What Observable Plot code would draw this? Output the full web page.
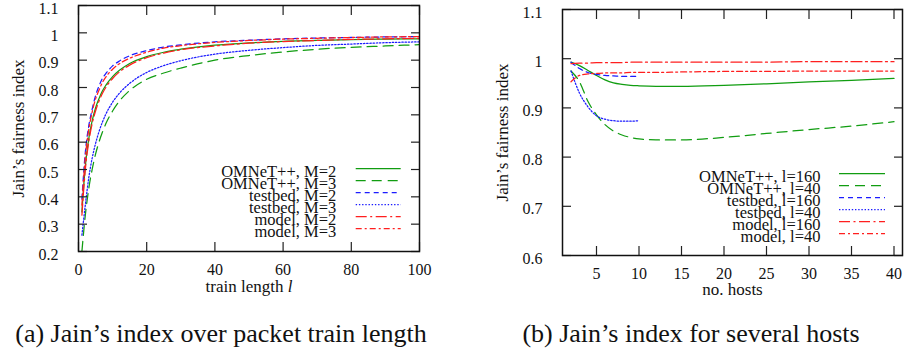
<!DOCTYPE html>
<html><head><meta charset="utf-8">
<script src="https://cdn.jsdelivr.net/npm/d3@7"></script>
<script src="https://cdn.jsdelivr.net/npm/@observablehq/plot@0.6"></script>
<style>
html,body{margin:0;padding:0;background:#fff;}
#root{position:relative;width:905px;height:353px;overflow:hidden;font-family:"Liberation Serif","Times New Roman","DejaVu Serif",serif;}
#root svg{position:absolute;top:0;}
#root svg text{font-family:"Liberation Serif","Times New Roman","DejaVu Serif",serif;}
.cap{position:absolute;top:321px;font-size:26px;line-height:1;white-space:nowrap;transform:translateX(-50%);color:#111;}
</style></head><body><div id="root"></div>
<script>
// ---------- data: panel (a) ----------
const trainLen   = [1,2,3,4,5,6,7,8,10,12,15,20,25,30,40,50,60,70,80,90,100];
const omnetM2    = [0.345,0.513,0.612,0.678,0.725,0.759,0.787,0.808,0.840,0.863,0.888,0.913,0.929,0.940,0.955,0.963,0.969,0.972,0.975,0.977,0.978];
const omnetM3    = [0.200,0.333,0.429,0.500,0.556,0.600,0.636,0.667,0.714,0.750,0.789,0.830,0.853,0.871,0.900,0.917,0.930,0.940,0.947,0.952,0.957];
const testbedM2  = [0.392,0.563,0.659,0.720,0.770,0.805,0.833,0.851,0.879,0.897,0.916,0.935,0.948,0.956,0.967,0.973,0.978,0.981,0.983,0.985,0.986];
const testbedM3  = [0.260,0.370,0.469,0.541,0.595,0.638,0.673,0.702,0.746,0.779,0.815,0.855,0.880,0.898,0.922,0.936,0.946,0.954,0.959,0.964,0.967];
const modelM2    = [0.333,0.500,0.600,0.667,0.714,0.750,0.778,0.800,0.833,0.857,0.882,0.909,0.926,0.938,0.952,0.962,0.968,0.972,0.976,0.978,0.980];
const modelM3    = [0.370,0.545,0.645,0.710,0.758,0.790,0.818,0.838,0.867,0.887,0.907,0.929,0.944,0.953,0.965,0.972,0.977,0.980,0.983,0.985,0.986];
const labelsA    = ["OMNeT++, M=2","OMNeT++, M=3","testbed, M=2","testbed, M=3","model, M=2","model, M=3"];
const xTicksA    = [0,20,40,60,80,100];
const yTicksA    = [0.2,0.3,0.4,0.5,0.6,0.7,0.8,0.9,1,1.1];

// ---------- data: panel (b) ----------
const hosts        = [2,3,4,5,6,7,8,9,10,12,15,20,25,30,35,40];
const testbedHosts = [2,3,4,5,6,7,8,9,10];
const omnet160   = [0.993,0.986,0.976,0.966,0.957,0.951,0.948,0.946,0.945,0.944,0.944,0.946,0.949,0.953,0.956,0.960];
const omnet40    = [0.975,0.953,0.913,0.886,0.866,0.853,0.845,0.840,0.837,0.835,0.835,0.840,0.848,0.856,0.863,0.872];
const testbed160 = [0.993,0.980,0.972,0.968,0.966,0.965,0.964,0.964,0.9645];
const testbed40  = [0.975,0.930,0.902,0.884,0.877,0.874,0.873,0.873,0.874];
const model160   = [0.990,0.991,0.991,0.992,0.992,0.992,0.992,0.993,0.993,0.993,0.993,0.993,0.993,0.994,0.994,0.994];
const model40    = [0.953,0.966,0.969,0.970,0.971,0.971,0.971,0.972,0.972,0.972,0.973,0.974,0.974,0.975,0.975,0.975];
const labelsB    = ["OMNeT++, l=160","OMNeT++, l=40","testbed, l=160","testbed, l=40","model, l=160","model, l=40"];
const xTicksB    = [5,10,15,20,25,30,35,40];
const yTicksB    = [0.6,0.7,0.8,0.9,1,1.1];

// ---------- styles (kept apart from data) ----------
const GREEN = "#119d11", BLUE = "#1c1cff", RED = "#ff1f1f";
const lineStyles = [
  {stroke: GREEN, dash: null},
  {stroke: GREEN, dash: "10,6"},
  {stroke: BLUE,  dash: "5,4"},
  {stroke: BLUE,  dash: "1.4,1.8"},
  {stroke: RED,   dash: "11,3.5,2,3.5"},
  {stroke: RED,   dash: "6,3,2,3"}
];

const seriesA = [
  {label: labelsA[0], x: trainLen, y: omnetM2},
  {label: labelsA[1], x: trainLen, y: omnetM3},
  {label: labelsA[2], x: trainLen, y: testbedM2},
  {label: labelsA[3], x: trainLen, y: testbedM3},
  {label: labelsA[4], x: trainLen, y: modelM2},
  {label: labelsA[5], x: trainLen, y: modelM3}
];
const seriesB = [
  {label: labelsB[0], x: hosts, y: omnet160},
  {label: labelsB[1], x: hosts, y: omnet40},
  {label: labelsB[2], x: testbedHosts, y: testbed160},
  {label: labelsB[3], x: testbedHosts, y: testbed40},
  {label: labelsB[4], x: hosts, y: model160},
  {label: labelsB[5], x: hosts, y: model40}
];

const fmt = d3.format("~g");
const FONT = "'Liberation Serif', 'Times New Roman', 'DejaVu Serif', serif";
const svgStyle = {fontFamily: FONT, fontSize: "16px", color: "#111", background: "transparent", overflow: "visible"};

function lineMarks(series) {
  return series.map((s, i) => {
    const rows = s.x.map((x, j) => ({x, y: s.y[j]}));
    return Plot.line(rows, {x: "x", y: "y", stroke: lineStyles[i].stroke,
      strokeDasharray: lineStyles[i].dash, strokeWidth: 1.25, curve: "monotone-x", clip: true});
  });
}

function panel({series, xDomain, yDomain, xTicks, yTicks, xTitle, yTitle, m, xTitleDy}) {
  const tk = {stroke: "#222", strokeWidth: 1.2, label: null, fill: "none"};
  return Plot.plot({
    width: 452, height: 305,
    marginLeft: m[0], marginRight: m[1], marginTop: m[2], marginBottom: m[3],
    style: svgStyle,
    x: {domain: xDomain},
    y: {domain: yDomain},
    marks: [
      ...lineMarks(series),
      Plot.axisX(xTicks, {anchor: "bottom", tickSize: 9, dy: -9, ...tk}),
      Plot.axisX(xTicks, {anchor: "top", tickSize: 9, dy: 9, ...tk}),
      Plot.axisY(yTicks, {anchor: "left", tickSize: 9, dx: 9, ...tk}),
      Plot.axisY(yTicks, {anchor: "right", tickSize: 9, dx: -9, ...tk}),
      Plot.axisX(xTicks, {anchor: "bottom", tickSize: 0, tickPadding: 12, tickFormat: fmt, label: null, fontSize: 16, fill: "#111"}),
      Plot.axisY(yTicks, {anchor: "left", tickSize: 0, tickPadding: 20, tickFormat: fmt, label: null, fontSize: 16, dy: 3, fill: "#111"}),
      Plot.frame({stroke: "#111", strokeWidth: 1.5}),
      Plot.text([yTitle], {frameAnchor: "left", textAnchor: "middle", rotate: -90, dx: -60, text: d => d, fontSize: 17, fill: "#111"}),
      Plot.text([xTitle], {frameAnchor: "bottom", textAnchor: "middle", dy: xTitleDy, text: d => d, fontSize: 17, fill: "#111"})
    ]
  });
}

function legend(labels, xr, yr, textDx) {
  return Plot.plot({
    width: 452, height: 305,
    style: svgStyle,
    x: {domain: [0, 1], range: xr, axis: null},
    y: {type: "point", domain: labels, range: yr, axis: null},
    marks: [
      ...labels.map((lab, i) => Plot.ruleY([lab], {y: d => d, x1: 0, x2: 1,
        stroke: lineStyles[i].stroke, strokeDasharray: lineStyles[i].dash, strokeWidth: 1.25})),
      Plot.text(labels, {y: d => d, x: 0, dx: textDx, dy: 3.3, textAnchor: "end", text: d => d, fontSize: 16.5, fill: "#111"})
    ]
  });
}

const root = document.getElementById("root");

const pa = panel({series: seriesA, xDomain: [0, 100], yDomain: [0.2, 1.1], xTicks: xTicksA, yTicks: yTicksA,
  xTitle: "train length l", yTitle: "Jain’s fairness index", m: [78, 33, 5, 54], xTitleDy: 40});
pa.style.left = "0px";
root.appendChild(pa);
for (const t of pa.querySelectorAll("text")) {
  if (t.textContent === "train length l") {
    t.textContent = "train length ";
    const ts = document.createElementNS("http://www.w3.org/2000/svg", "tspan");
    ts.setAttribute("font-style", "italic");
    ts.textContent = "l";
    t.appendChild(ts);
  }
}
const la = legend(labelsA, [355.7, 400.7], [161.3, 235.3], -20);
la.style.left = "0px";
root.appendChild(la);

const pb = panel({series: seriesB, xDomain: [1, 41], yDomain: [0.6, 1.1], xTicks: xTicksB, yTicks: yTicksB,
  xTitle: "no. hosts", yTitle: "Jain’s fairness index", m: [109, 3, 9, 50], xTitleDy: 39});
pb.style.left = "453px";
root.appendChild(pb);
const lb = legend(labelsB, [386, 432], [165.7, 239.3], -19);
lb.style.left = "453px";
root.appendChild(lb);

const capA = document.createElement("div");
capA.className = "cap"; capA.style.left = "221px";
capA.textContent = "(a) Jain’s index over packet train length";
root.appendChild(capA);
const capB = document.createElement("div");
capB.className = "cap"; capB.style.left = "691px";
capB.textContent = "(b) Jain’s index for several hosts";
root.appendChild(capB);
</script></body></html>
